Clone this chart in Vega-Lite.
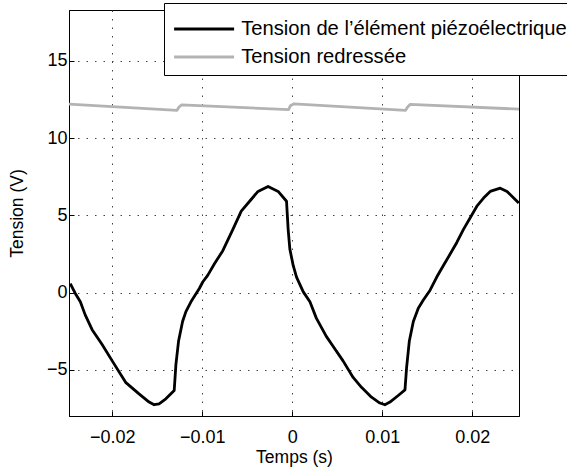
{
  "$schema": "https://vega.github.io/schema/vega-lite/v6.json",
  "width": 450,
  "height": 406,
  "autosize": {"type": "none"},
  "padding": {"left": 69, "top": 10, "right": 48, "bottom": 57},
  "background": "white",
  "config": {
    "font": "Liberation Sans",
    "view": {"stroke": "black", "strokeWidth": 1},
    "axis": {
      "labelFont": "Liberation Sans",
      "titleFont": "Liberation Sans",
      "labelFontSize": 18,
      "titleFontSize": 17.5,
      "titleFontWeight": "normal",
      "labelColor": "black",
      "titleColor": "black",
      "domainColor": "black",
      "tickColor": "black",
      "tickSize": -5,
      "gridColor": "#444444",
      "gridDash": [1.5, 7],
      "gridWidth": 1
    }
  },
  "data": {
    "values": [
      {"t": -0.02466, "v": 0.58, "s": "Tension de l’élément piézoélectrique"},
      {"t": -0.0241, "v": -0.06, "s": "Tension de l’élément piézoélectrique"},
      {"t": -0.02354, "v": -0.6, "s": "Tension de l’élément piézoélectrique"},
      {"t": -0.023, "v": -1.45, "s": "Tension de l’élément piézoélectrique"},
      {"t": -0.02223, "v": -2.41, "s": "Tension de l’élément piézoélectrique"},
      {"t": -0.02112, "v": -3.37, "s": "Tension de l’élément piézoélectrique"},
      {"t": -0.02, "v": -4.43, "s": "Tension de l’élément piézoélectrique"},
      {"t": -0.01851, "v": -5.82, "s": "Tension de l’élément piézoélectrique"},
      {"t": -0.01702, "v": -6.57, "s": "Tension de l’élément piézoélectrique"},
      {"t": -0.0159, "v": -7.1, "s": "Tension de l’élément piézoélectrique"},
      {"t": -0.01534, "v": -7.27, "s": "Tension de l’élément piézoélectrique"},
      {"t": -0.01479, "v": -7.21, "s": "Tension de l’élément piézoélectrique"},
      {"t": -0.01404, "v": -6.89, "s": "Tension de l’élément piézoélectrique"},
      {"t": -0.01311, "v": -6.35, "s": "Tension de l’élément piézoélectrique"},
      {"t": -0.01292, "v": -4.65, "s": "Tension de l’élément piézoélectrique"},
      {"t": -0.01263, "v": -3.16, "s": "Tension de l’élément piézoélectrique"},
      {"t": -0.01218, "v": -1.88, "s": "Tension de l’élément piézoélectrique"},
      {"t": -0.01181, "v": -1.24, "s": "Tension de l’élément piézoélectrique"},
      {"t": -0.01125, "v": -0.6, "s": "Tension de l’élément piézoélectrique"},
      {"t": -0.01032, "v": 0.26, "s": "Tension de l’élément piézoélectrique"},
      {"t": -0.00994, "v": 0.68, "s": "Tension de l’élément piézoélectrique"},
      {"t": -0.00939, "v": 1.11, "s": "Tension de l’élément piézoélectrique"},
      {"t": -0.00864, "v": 1.86, "s": "Tension de l’élément piézoélectrique"},
      {"t": -0.00771, "v": 2.71, "s": "Tension de l’élément piézoélectrique"},
      {"t": -0.00659, "v": 4.09, "s": "Tension de l’élément piézoélectrique"},
      {"t": -0.00566, "v": 5.27, "s": "Tension de l’élément piézoélectrique"},
      {"t": -0.00473, "v": 5.91, "s": "Tension de l’élément piézoélectrique"},
      {"t": -0.0038, "v": 6.55, "s": "Tension de l’élément piézoélectrique"},
      {"t": -0.00268, "v": 6.87, "s": "Tension de l’élément piézoélectrique"},
      {"t": -0.00156, "v": 6.55, "s": "Tension de l’élément piézoélectrique"},
      {"t": -0.00063, "v": 5.91, "s": "Tension de l’élément piézoélectrique"},
      {"t": -0.00045, "v": 4.09, "s": "Tension de l’élément piézoélectrique"},
      {"t": -0.00026, "v": 2.81, "s": "Tension de l’élément piézoélectrique"},
      {"t": 0.00011, "v": 1.75, "s": "Tension de l’élément piézoélectrique"},
      {"t": 0.00048, "v": 1.0, "s": "Tension de l’élément piézoélectrique"},
      {"t": 0.00123, "v": 0.04, "s": "Tension de l’élément piézoélectrique"},
      {"t": 0.00197, "v": -0.6, "s": "Tension de l’élément piézoélectrique"},
      {"t": 0.00268, "v": -1.66, "s": "Tension de l’élément piézoélectrique"},
      {"t": 0.00379, "v": -2.84, "s": "Tension de l’élément piézoélectrique"},
      {"t": 0.00454, "v": -3.48, "s": "Tension de l’élément piézoélectrique"},
      {"t": 0.00565, "v": -4.43, "s": "Tension de l’élément piézoélectrique"},
      {"t": 0.00677, "v": -5.5, "s": "Tension de l’élément piézoélectrique"},
      {"t": 0.0077, "v": -6.14, "s": "Tension de l’élément piézoélectrique"},
      {"t": 0.00881, "v": -6.78, "s": "Tension de l’élément piézoélectrique"},
      {"t": 0.00974, "v": -7.16, "s": "Tension de l’élément piézoélectrique"},
      {"t": 0.0103, "v": -7.27, "s": "Tension de l’élément piézoélectrique"},
      {"t": 0.01086, "v": -7.1, "s": "Tension de l’élément piézoélectrique"},
      {"t": 0.01178, "v": -6.67, "s": "Tension de l’élément piézoélectrique"},
      {"t": 0.01253, "v": -6.31, "s": "Tension de l’élément piézoélectrique"},
      {"t": 0.01271, "v": -4.86, "s": "Tension de l’élément piézoélectrique"},
      {"t": 0.01301, "v": -3.16, "s": "Tension de l’élément piézoélectrique"},
      {"t": 0.01346, "v": -1.88, "s": "Tension de l’élément piézoélectrique"},
      {"t": 0.01401, "v": -1.02, "s": "Tension de l’élément piézoélectrique"},
      {"t": 0.01457, "v": -0.49, "s": "Tension de l’élément piézoélectrique"},
      {"t": 0.01532, "v": 0.15, "s": "Tension de l’élément piézoélectrique"},
      {"t": 0.01606, "v": 1.0, "s": "Tension de l’élément piézoélectrique"},
      {"t": 0.0168, "v": 1.75, "s": "Tension de l’élément piézoélectrique"},
      {"t": 0.01755, "v": 2.49, "s": "Tension de l’élément piézoélectrique"},
      {"t": 0.01829, "v": 3.24, "s": "Tension de l’élément piézoélectrique"},
      {"t": 0.01903, "v": 4.09, "s": "Tension de l’élément piézoélectrique"},
      {"t": 0.01978, "v": 4.84, "s": "Tension de l’élément piézoélectrique"},
      {"t": 0.02052, "v": 5.59, "s": "Tension de l’élément piézoélectrique"},
      {"t": 0.02126, "v": 6.12, "s": "Tension de l’élément piézoélectrique"},
      {"t": 0.022, "v": 6.55, "s": "Tension de l’élément piézoélectrique"},
      {"t": 0.02312, "v": 6.76, "s": "Tension de l’élément piézoélectrique"},
      {"t": 0.02387, "v": 6.55, "s": "Tension de l’élément piézoélectrique"},
      {"t": 0.02461, "v": 6.12, "s": "Tension de l’élément piézoélectrique"},
      {"t": 0.02517, "v": 5.8, "s": "Tension de l’élément piézoélectrique"},
      {"t": -0.0248, "v": 12.2, "s": "Tension redressée"},
      {"t": -0.0128, "v": 11.8, "s": "Tension redressée"},
      {"t": -0.0126, "v": 12.0, "s": "Tension redressée"},
      {"t": -0.0123, "v": 12.15, "s": "Tension redressée"},
      {"t": -0.0004, "v": 11.85, "s": "Tension redressée"},
      {"t": -0.0002, "v": 12.1, "s": "Tension redressée"},
      {"t": 0.0002, "v": 12.22, "s": "Tension redressée"},
      {"t": 0.0126, "v": 11.8, "s": "Tension redressée"},
      {"t": 0.0128, "v": 12.0, "s": "Tension redressée"},
      {"t": 0.0131, "v": 12.18, "s": "Tension redressée"},
      {"t": 0.0252, "v": 11.88, "s": "Tension redressée"}
    ]
  },
  "mark": {"type": "line", "strokeWidth": 2.8, "clip": true, "strokeJoin": "round"},
  "encoding": {
    "x": {
      "field": "t",
      "type": "quantitative",
      "scale": {"domain": [-0.0248, 0.0252], "nice": false, "zero": false},
      "axis": {
        "values": [-0.02, -0.01, 0, 0.01, 0.02],
        "format": ".2~f",
        "title": "Temps (s)",
        "labelPadding": 17,
        "titlePadding": 2
      }
    },
    "y": {
      "field": "v",
      "type": "quantitative",
      "scale": {"domain": [-8, 18.3], "nice": false, "zero": false},
      "axis": {
        "values": [-5, 0, 5, 10, 15],
        "format": "d",
        "title": "Tension (V)",
        "labelPadding": 7,
        "titlePadding": 20
      }
    },
    "color": {
      "field": "s",
      "type": "nominal",
      "scale": {
        "domain": ["Tension de l’élément piézoélectrique", "Tension redressée"],
        "range": ["#000000", "#b3b3b3"]
      },
      "legend": {
        "title": " ",
        "titleFontSize": 4,
        "titlePadding": 5,
        "orient": "none",
        "legendX": 95,
        "legendY": -7,
        "fillColor": "white",
        "strokeColor": "black",
        "padding": 7,
        "symbolType": "M-1.4,0H10.6",
        "symbolSize": 100,
        "symbolStrokeWidth": 3,
        "labelFontSize": 20.2,
        "labelFont": "Liberation Sans",
        "labelColor": "black",
        "labelOffset": 50,
        "labelLimit": 0,
        "rowPadding": 7
      }
    }
  }
}
